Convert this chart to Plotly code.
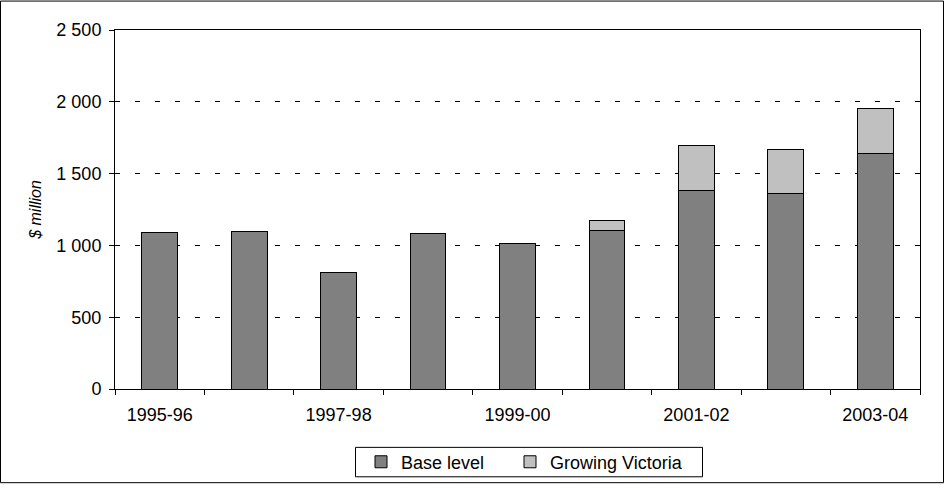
import plotly.graph_objects as go

# Financial years shown on the horizontal axis
years = ["1995-96", "1996-97", "1997-98", "1998-99", "1999-00",
         "2000-01", "2001-02", "2002-03", "2003-04"]

# Spending in $ million
base_level = [1090, 1100, 810, 1080, 1010, 1105, 1385, 1360, 1640]
growing_victoria = [0, 0, 0, 0, 0, 65, 310, 310, 310]

# Only every second year is labelled
labelled_years = ["1995-96", "1997-98", "1999-00", "2001-02", "2003-04"]

y_ticks = [0, 500, 1000, 1500, 2000, 2500]

FONT = "Liberation Sans, Arial, sans-serif"

pos = list(range(len(years)))
label_pos = [years.index(y) for y in labelled_years]
boundaries = [p - 0.5 for p in pos] + [pos[-1] + 0.5]

fig = go.Figure()
fig.add_trace(go.Bar(
    x=pos, y=base_level, name="Base level",
    marker=dict(color="#808080", line=dict(color="#000000", width=1)),
    width=0.4, legend="legend",
))
fig.add_trace(go.Bar(
    x=pos, y=growing_victoria, name="Growing Victoria",
    marker=dict(color="#C0C0C0", line=dict(color="#000000", width=1)),
    width=0.4, legend="legend2",
))

L, R, T, B = 115, 24, 30, 96
W, H = 944, 492
pw, ph = W - L - R, H - T - B


def px_x(v):
    """Pixel column -> paper x."""
    return (v - L) / pw


def px_y(v):
    """Pixel row -> paper y."""
    return (H - B - v) / ph


legend_common = dict(
    orientation="h",
    xanchor="left", yanchor="middle",
    y=px_y(470.5),
    borderwidth=0,
    bgcolor="rgba(0,0,0,0)",
    font=dict(family=FONT, size=18),
    itemwidth=30,
)

fig.update_layout(
    width=W, height=H,
    barmode="stack",
    separators=". ",
    margin=dict(l=L, r=R, t=T, b=B, pad=0),
    paper_bgcolor="white",
    plot_bgcolor="white",
    font=dict(family=FONT, size=18, color="#000000"),
    showlegend=True,
    legend=dict(legend_common, x=px_x(361)),
    legend2=dict(legend_common, x=px_x(510)),
    xaxis=dict(
        range=[-0.5, len(years) - 0.5],
        tickmode="array",
        tickvals=label_pos,
        ticktext=labelled_years,
        ticks="outside", ticklen=9, tickcolor="rgba(0,0,0,0)",
        showgrid=False, zeroline=False,
        showline=True, linecolor="#000000", linewidth=1, mirror=True,
        minor=dict(tickmode="array", tickvals=boundaries, ticks="outside",
                   ticklen=5, tickcolor="#000000", tickwidth=1, showgrid=False),
        fixedrange=True,
    ),
    yaxis=dict(
        range=[0, 2500],
        tickmode="array",
        tickvals=y_ticks,
        tickformat=",d",
        ticks="outside", ticklen=5, tickcolor="#000000",
        ticklabelstandoff=4,
        showgrid=True, gridcolor="#000000", gridwidth=1, griddash="5px,15px",
        zeroline=False,
        showline=True, linecolor="#000000", linewidth=1, mirror=True,
        title=dict(text="<i>$ million</i>", font=dict(family=FONT, size=16),
                   standoff=10),
        fixedrange=True,
    ),
)

# Frame around the two legend entries
fig.add_shape(
    type="rect", xref="paper", yref="paper",
    x0=px_x(355.5), x1=px_x(702.5), y0=px_y(485.5), y1=px_y(455.5),
    line=dict(color="#000000", width=1), fillcolor="rgba(0,0,0,0)",
    layer="above",
)

# Border around the whole chart
fig.add_shape(
    type="rect", xref="paper", yref="paper",
    x0=px_x(0.5), x1=px_x(W - 0.5), y0=px_y(H - 0.5), y1=px_y(0.5),
    line=dict(color="#000000", width=1), fillcolor="rgba(0,0,0,0)",
    layer="above",
)

fig.write_html("out.html", config={"displayModeBar": False})
